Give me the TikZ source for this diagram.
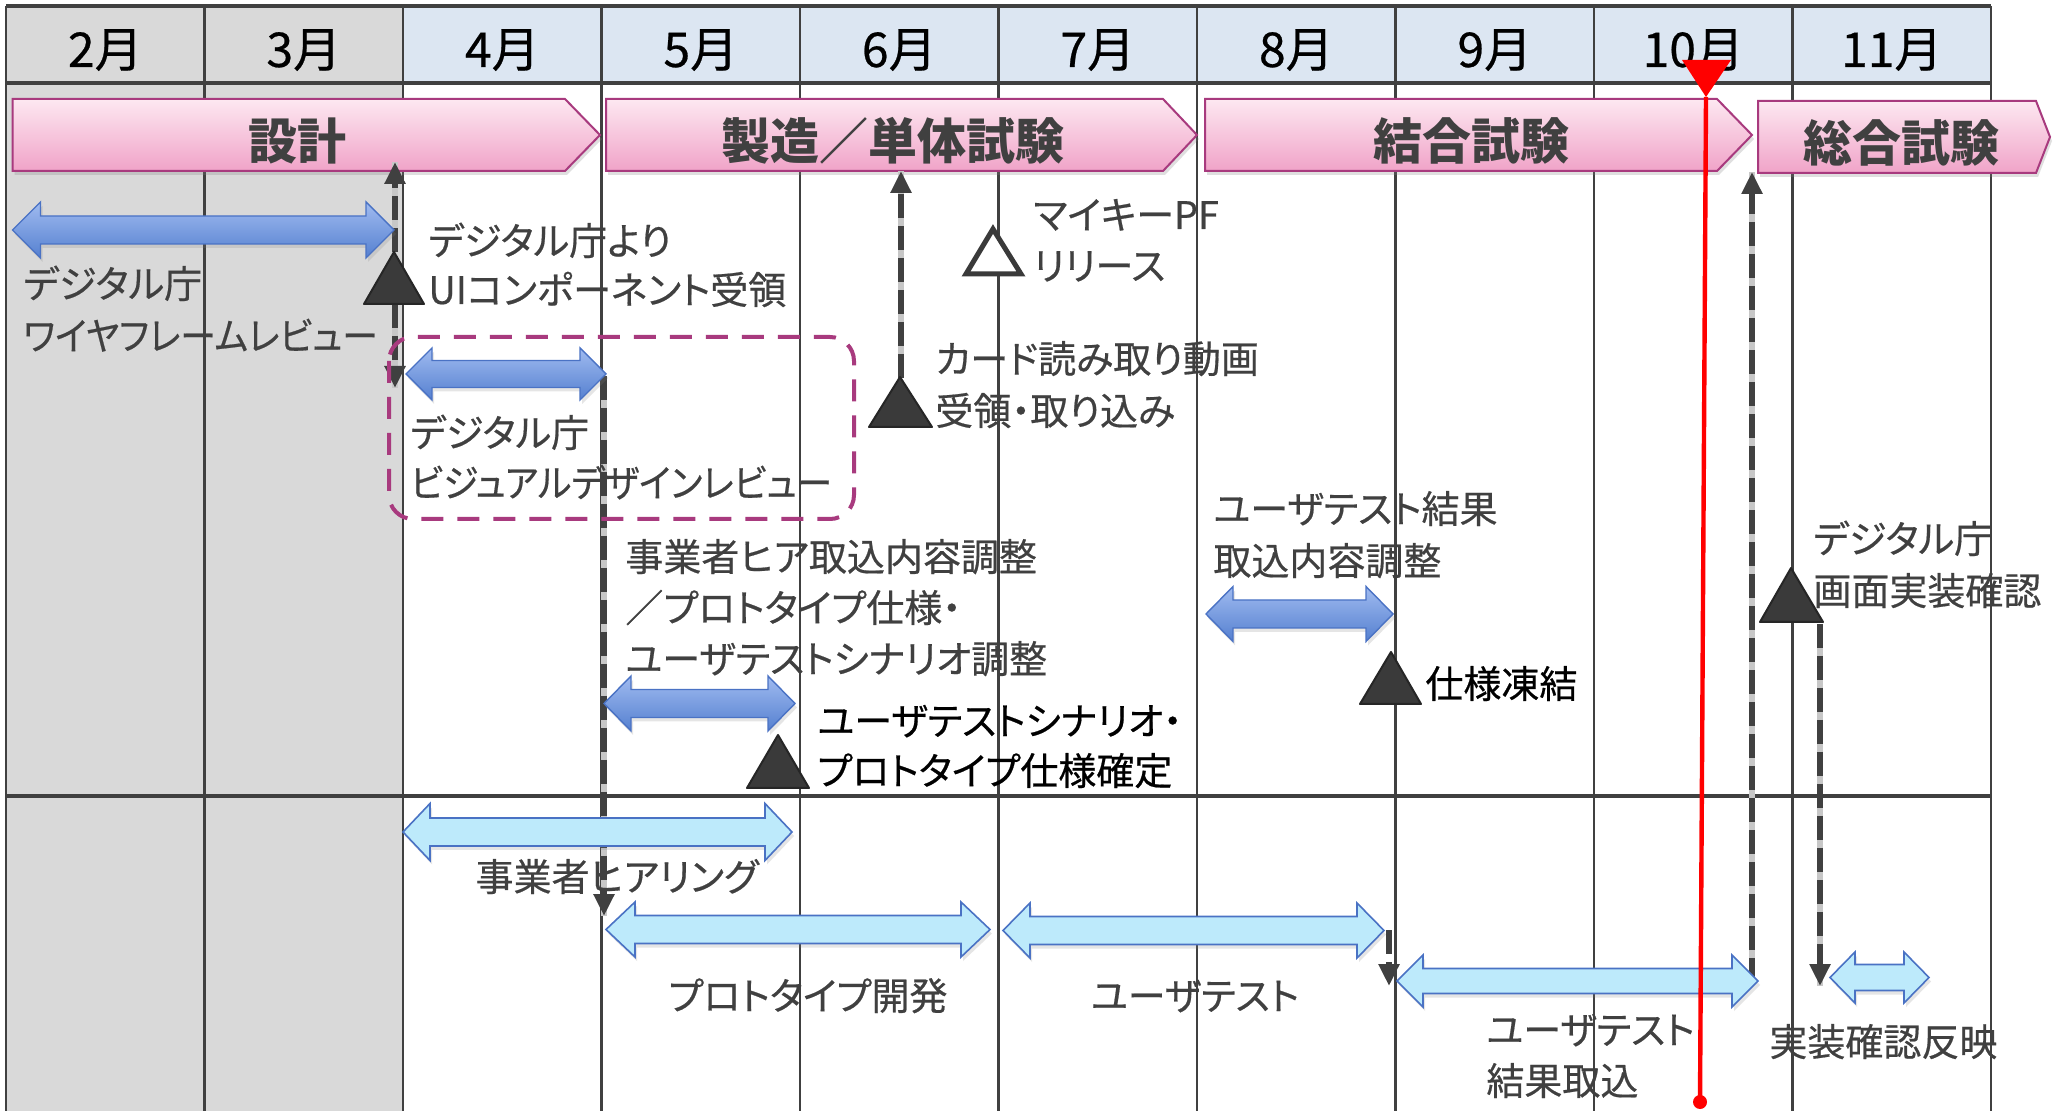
\documentclass[tikz,border=0pt]{standalone}
\usepackage{graphicx}
\usepackage{fontspec}
\newfontfamily\jp[RawFeature=+palt]{Noto Sans CJK JP}
\newfontfamily\jpm[RawFeature=+palt,FakeBold=0.5]{Noto Sans CJK JP}
\usetikzlibrary{arrows.meta,shadows}
\definecolor{gridc}{HTML}{404040}
\definecolor{txt}{HTML}{404040}
\definecolor{hdrblue}{HTML}{DCE6F2}
\definecolor{grayfill}{HTML}{D9D9D9}
\definecolor{pinktop}{HTML}{FDE8F1}
\definecolor{pinkbot}{HTML}{F0A3C8}
\definecolor{pinkedge}{HTML}{A83A7E}
\definecolor{bluetop}{HTML}{A0BBF0}
\definecolor{bluebot}{HTML}{5580D0}
\definecolor{blueedge}{HTML}{4A72C4}
\definecolor{cyanfill}{HTML}{BDEAFB}
\definecolor{msdark}{HTML}{3A3A3A}
\definecolor{todayred}{HTML}{FF0000}
\definecolor{boxpink}{HTML}{A83A7E}
\newcommand{\dblarrow}[7]{%
  \path[#1] (#2,#4) -- ({#2+#7},{#4-#6}) -- ({#2+#7},{#4-#5}) -- ({#3-#7},{#4-#5}) -- ({#3-#7},{#4-#6}) -- (#3,#4) -- ({#3-#7},{#4+#6}) -- ({#3-#7},{#4+#5}) -- ({#2+#7},{#4+#5}) -- ({#2+#7},{#4+#6}) -- cycle;}
\newcommand{\phasebar}[6]{%
  \path[phasebox] (#1,#5) -- (#2,#5) -- (#3,{(#5+#6)/2}) -- (#2,#6) -- (#1,#6) -- cycle;}
\newcommand{\narrowtxt}[1]{\scalebox{0.94}[1]{#1}}
\tikzset{
  gridline/.style={draw=gridc, line width=1.2pt},
  phasebox/.style={draw=pinkedge, line width=1pt, top color=pinktop, bottom color=pinkbot,
     drop shadow={shadow xshift=1pt, shadow yshift=-2pt, opacity=0.25}},
  bluearr/.style={draw=blueedge, line width=0.7pt, top color=bluetop, bottom color=bluebot,
     drop shadow={shadow xshift=1pt, shadow yshift=-2pt, opacity=0.2}},
  cyanarr/.style={draw=blueedge, line width=0.8pt, fill=cyanfill,
     drop shadow={shadow xshift=1pt, shadow yshift=-2pt, opacity=0.2}},
  milestone/.style={fill=msdark, draw=black!85, line width=1pt, line join=round},
  hollowms/.style={fill=white, draw=msdark, line width=2.5pt, line join=miter},
  dashunder/.style={draw=black!22, line width=2.8pt},
  dasharrow/.style={draw=gridc, line width=2.8pt, dash pattern=on 12pt off 4pt,
     -{Triangle[length=11pt,width=10pt]}},
  lbl/.style={anchor=base west, inner sep=0pt, text=txt, font=\jpm\fontsize{19}{22}\selectfont},
  lblc/.style={lbl, anchor=base},
  month/.style={anchor=base, inner sep=0pt, text=black, font=\jpm\fontsize{24}{28}\selectfont},
  phase/.style={anchor=base, inner sep=0pt, text=txt, font=\jp\bfseries\fontsize{24.5}{28}\selectfont},
}
\begin{document}
\begin{tikzpicture}[x=0.5pt, y=-0.5pt]
\useasboundingbox (0,0) rectangle (2067,1111);
\fill[white] (0,0) rectangle (2067,1111);
% backgrounds
\fill[grayfill] (6,6) rectangle (403,1111);
\fill[hdrblue] (403,6) rectangle (1991,83);
% grid
\foreach \gx in {6,204.5,403,601.5,800,998.5,1197,1395.5,1594,1792.5,1991}
  \draw[gridline] (\gx,6) -- (\gx,1111);
\draw[gridc, line width=1.6pt] (6,6) -- (1991,6);
\draw[gridc, line width=2pt] (6,83) -- (1991,83);
\draw[gridc, line width=1.6pt] (6,796) -- (1991,796);
% months
\node (m2) [month] at (105.3,67) {2月};
\node (m3) [month] at (303.8,67) {3月};
\node (m4) [month] at (502.3,67) {4月};
\node (m5) [month] at (700.8,67) {5月};
\node (m6) [month] at (899.3,67) {6月};
\node (m7) [month] at (1097.8,67) {7月};
\node (m8) [month] at (1296.3,67) {8月};
\node (m9) [month] at (1494.8,67) {9月};
\node (m10) [month] at (1693.3,67) {10月};
\node (m11) [month] at (1891.8,67) {11月};
% phase bars
\phasebar{12.5}{565}{600}{}{99}{171}
\phasebar{606}{1163}{1197}{}{99}{171}
\phasebar{1205}{1717}{1752}{}{99}{171}
\phasebar{1758}{2036}{2050}{}{101}{173}
\node (ph1) [phase] at (297,160) {設計};
\node (ph2) [phase] at (893,160) {製造／単体試験};
\node (ph3) [phase] at (1471,160) {結合試験};
\node (ph4) [phase] at (1901,162) {総合試験};
% dashed connectors (with light under-line)
\coordinate (d1a) at (395,252); \coordinate (d1b) at (395,162);
\coordinate (d1c) at (395,304); \coordinate (d1d) at (395,388);
\coordinate (d2a) at (901,378); \coordinate (d2b) at (901,171);
\coordinate (d3a) at (604,376); \coordinate (d3b) at (604,916);
\coordinate (d4a) at (1389,930); \coordinate (d4b) at (1389,986);
\coordinate (d5a) at (1752,982); \coordinate (d5b) at (1752,172);
\coordinate (d6a) at (1820,624); \coordinate (d6b) at (1820,986);
\foreach \a/\b in {d1a/d1b,d1c/d1d,d2a/d2b,d3a/d3b,d5a/d5b,d6a/d6b}
  \draw[dashunder] (\a) -- (\b);
\draw[dasharrow] (d1a) -- (d1b);
\draw[dasharrow] (d1c) -- (d1d);
\draw[dasharrow] (d2a) -- (d2b);
\draw[dasharrow] (d3a) -- (d3b);
\draw[dasharrow] (d4a) -- (d4b);
\draw[dasharrow] (d5a) -- (d5b);
\draw[dasharrow] (d6a) -- (d6b);
% pink dashed box
\draw[boxpink, line width=2pt, dash pattern=on 11pt off 7pt, rounded corners=12pt] (389,337) rectangle (854,519);
% blue arrows
\dblarrow{bluearr}{12.5}{394}{230}{14}{28}{28}
\dblarrow{bluearr}{406}{606}{374}{13.5}{26}{26}
\dblarrow{bluearr}{604}{795}{703.5}{14}{27.5}{27}
\dblarrow{bluearr}{1206}{1393}{614}{14}{27.5}{27}
% cyan arrows
\dblarrow{cyanarr}{403}{792}{832}{14}{28.5}{27}
\dblarrow{cyanarr}{606}{990}{929.5}{14}{27.5}{29}
\dblarrow{cyanarr}{1003}{1384}{930.5}{14}{27.5}{27}
\dblarrow{cyanarr}{1397}{1758}{981}{12.5}{26}{26}
\dblarrow{cyanarr}{1830}{1929}{977.5}{13}{25.5}{25}
% milestones
\path[milestone] (394,252) -- (424,304) -- (364,304) -- cycle;
\path[milestone] (900,377) -- (932,427) -- (869,427) -- cycle;
\path[hollowms] (993,229) -- (1021,274) -- (966,274) -- cycle;
\path[milestone] (778,735) -- (809,788) -- (747,788) -- cycle;
\path[milestone] (1391,652) -- (1421,704) -- (1360,704) -- cycle;
\path[milestone] (1791,568) -- (1823,622) -- (1760,622) -- cycle;
% labels
\node (l1a) [lbl] at (23,298) {デジタル庁};
\node (l1b) [lbl] at (23,350) {\narrowtxt{ワイヤフレームレビュー}};
\node (l2a) [lbl] at (428,255) {デジタル庁より};
\node (l2b) [lbl] at (428,304) {UIコンポーネント受領};
\node (l3a) [lbl] at (410,447) {デジタル庁};
\node (l3b) [lbl] at (410,497) {\narrowtxt{ビジュアルデザインレビュー}};
\node (l4a) [lbl] at (625,571) {事業者ヒア取込内容調整};
\node (l4b) [lbl] at (625,622) {／プロトタイプ仕様・};
\node (l4c) [lbl] at (625,673) {ユーザテストシナリオ調整};
\node (l5a) [lbl, text=black] at (817,735) {ユーザテストシナリオ・};
\node (l5b) [lbl, text=black] at (817,785) {プロトタイプ仕様確定};
\node (l6a) [lbl] at (935,373) {カード読み取り動画};
\node (l6b) [lbl] at (935,425) {受領・取り込み};
\node (l7a) [lbl] at (1033,229) {マイキーPF};
\node (l7b) [lbl] at (1033,280) {リリース};
\node (l8a) [lbl] at (1213,523) {ユーザテスト結果};
\node (l8b) [lbl] at (1213,575) {取込内容調整};
\node (l9) [lbl, text=black] at (1425,698) {仕様凍結};
\node (l10a) [lbl] at (1813,553) {デジタル庁};
\node (l10b) [lbl] at (1813,605) {画面実装確認};
\node (l11) [lblc] at (617,891) {事業者ヒアリング};
\node (l12) [lblc] at (808,1010) {プロトタイプ開発};
\node (l13) [lblc] at (1195,1010) {ユーザテスト};
\node (l14a) [lbl] at (1486,1044) {ユーザテスト};
\node (l14b) [lbl] at (1486,1095) {結果取込};
\node (l15) [lbl] at (1769,1056) {実装確認反映};
% today marker
\coordinate (tdtop) at (1706,97);
\coordinate (tdbot) at (1700,1102);
\fill[todayred] (1682,60) -- (1731,60) -- (tdtop) -- cycle;
\draw[todayred, line width=2.2pt] (tdtop) -- (tdbot);
\fill[todayred] (tdbot) circle (7);
\end{tikzpicture}
\end{document}
